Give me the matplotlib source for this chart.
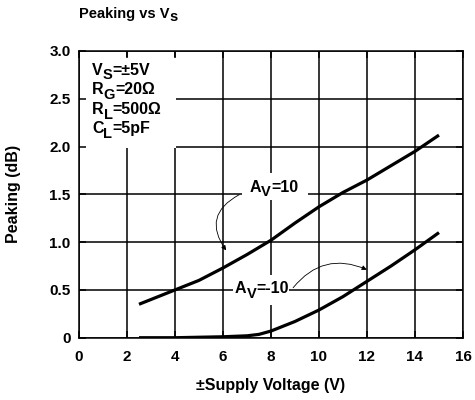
import matplotlib
matplotlib.use("Agg")
import matplotlib.pyplot as plt
from matplotlib.patches import Rectangle

# data
x_av10 = [2.5, 3, 4, 5, 6, 7, 8, 9, 10, 11, 12, 13, 14, 15]
y_av10 = [0.35, 0.40, 0.50, 0.60, 0.73, 0.87, 1.02, 1.20, 1.37, 1.52, 1.65, 1.80, 1.95, 2.12]
x_avm10 = [2.5, 4, 6, 7, 7.5, 8, 9, 10, 11, 12, 13, 14, 15]
y_avm10 = [0.0, 0.0, 0.01, 0.02, 0.035, 0.07, 0.17, 0.29, 0.43, 0.59, 0.75, 0.92, 1.10]
xticks = [0, 2, 4, 6, 8, 10, 12, 14, 16]
yticks = [0, 0.5, 1.0, 1.5, 2.0, 2.5, 3.0]
ytick_labels = ["0", "0.5", "1.0", "1.5", "2.0", "2.5", "3.0"]
# (main, subscript, rest)
conditions = [("V", "S", "=±5V"), ("R", "G", "=20Ω"), ("R", "L", "=500Ω"), ("C", "L", "=5pF")]

plt.rcParams["font.family"] = ["Liberation Sans", "DejaVu Sans"]
plt.rcParams["font.weight"] = "bold"


def sub_text(ax, x, y, main, sub, rest, size, subsize, drop, **kw):
    # text with a subscript built from pieces, left edge at (x, y)
    first = ax.text(x, y, main, fontsize=size, fontweight="bold",
                    ha="left", va="center", **kw)
    s = ax.annotate(sub, xy=(1, 0), xycoords=(first, first), xytext=(0, -drop),
                    textcoords="offset points", fontsize=subsize,
                    fontweight="bold", ha="left", va="bottom", **kw)
    if rest:
        ax.annotate(rest, xy=(1, 0), xycoords=(s, first), fontsize=size,
                    fontweight="bold", ha="left", va="bottom", **kw)


fig = plt.figure(figsize=(4.75, 4.0), dpi=100)
ax = fig.add_axes([0.1663, 0.1557, 0.8084, 0.7168])

ax.set_xlim(0, 16)
ax.set_ylim(0, 3.0)

# grid drawn by hand so boxes can hide it but not the ticks
for xv in xticks:
    ax.axvline(xv, color="black", lw=1.1, zorder=1)
for yv in yticks:
    ax.axhline(yv, color="black", lw=1.1, zorder=1)

ax.set_axisbelow(False)
for sp in ax.spines.values():
    sp.set_linewidth(1.1)
ax.set_xticks(xticks)
ax.set_yticks(yticks)
ax.set_yticklabels(ytick_labels)
ax.tick_params(direction="in", length=5, width=1.1, top=True, right=True,
               labelsize=11, pad=9)
ax.tick_params(axis="y", pad=6)
for lab in ax.get_xticklabels() + ax.get_yticklabels():
    lab.set_fontweight("bold")

# white boxes that hide the grid behind the texts
ax.add_patch(Rectangle((0.05, 1.99), 4.0, 0.95, facecolor="white",
                       edgecolor="none", zorder=2))
ax.add_patch(Rectangle((6.79, 1.44), 2.75, 0.28, facecolor="white",
                       edgecolor="none", zorder=2))
ax.add_patch(Rectangle((6.42, 0.34), 2.33, 0.32, facecolor="white",
                       edgecolor="none", zorder=2))

for i, (m, s, r) in enumerate(conditions):
    sub_text(ax, 0.54, 2.80 - i * 0.205, m, s, r, 11.5, 10.5, 3.5, zorder=3)

ax.plot(x_av10, y_av10, color="black", lw=2.3, zorder=4, solid_capstyle="butt")
ax.plot(x_avm10, y_avm10, color="black", lw=2.3, zorder=4, solid_capstyle="butt")

sub_text(ax, 7.12, 1.57, "A", "V", "=10", 11.5, 10.5, 3.0, zorder=3)
sub_text(ax, 6.5, 0.51, "A", "V", "=-10", 11.5, 10.5, 3.0, zorder=3)

ax.annotate("", xy=(6.2, 0.89), xytext=(6.78, 1.51),
            arrowprops=dict(arrowstyle="-|>", color="black", lw=0.6,
                            mutation_scale=7,
                            connectionstyle="arc3,rad=0.6"), zorder=5)
ax.annotate("", xy=(12.1, 0.70), xytext=(8.85, 0.50),
            arrowprops=dict(arrowstyle="-|>", color="black", lw=0.6,
                            mutation_scale=7,
                            connectionstyle="arc3,rad=-0.4"), zorder=5)

# title with subscript
t1 = fig.text(0.166, 0.965, "Peaking vs V", fontsize=10.5, fontweight="bold",
              ha="left", va="center")
fig.add_artist(plt.matplotlib.text.Annotation(
    "s", xy=(1, 0), xycoords=(t1, t1), xytext=(0, -2.5),
    textcoords="offset points", fontsize=10.5, fontweight="bold",
    ha="left", va="bottom"))

ax.set_ylabel("Peaking (dB)", fontsize=11.5, fontweight="bold")
ax.yaxis.set_label_coords(-0.15, 0.5)
ax.set_xlabel("±Supply Voltage (V)", fontsize=11.5, fontweight="bold", labelpad=10)

fig.savefig("out.png", dpi=100)
